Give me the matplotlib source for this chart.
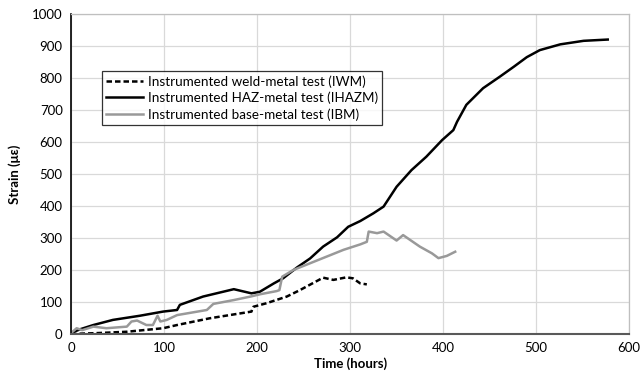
import matplotlib
matplotlib.use("Agg")
import matplotlib.pyplot as plt

# Instrumented weld-metal test (IWM)
iwm_t = [0, 30, 60, 99, 114, 149, 194, 195, 196, 210, 232, 246, 271, 282, 296, 303, 311, 318]
iwm_s = [0, 3, 7, 18, 28, 49, 70, 80, 85, 96, 117, 137, 176, 169, 177, 174, 158, 155]

# Instrumented HAZ-metal test (IHAZM)
haz_t = [0, 10, 24, 45, 74, 99, 114, 117, 142, 175, 194, 203, 218, 228, 243, 257, 271, 286,
         298, 311, 325, 336, 350, 366, 382, 399, 411, 415, 425, 443, 461, 476, 490, 504,
         526, 551, 577]
haz_s = [3, 15, 28, 44, 57, 70, 75, 91, 117, 140, 127, 132, 158, 174, 208, 236, 273, 302,
         335, 353, 377, 398, 460, 512, 554, 606, 637, 663, 716, 768, 804, 835, 865, 887,
         905, 916, 920]

# Instrumented base-metal test (IBM)
ibm_t = [0, 6, 12, 24, 38, 60, 65, 71, 81, 88, 93, 96, 103, 114, 132, 146, 153, 175, 193,
         203, 221, 224, 227, 239, 257, 275, 293, 311, 318, 320, 329, 336, 350, 357, 375,
         388, 395, 404, 413]
ibm_s = [3, 18, 12, 23, 18, 23, 39, 42, 28, 28, 57, 39, 44, 59, 68, 75, 94, 106, 117,
         124, 134, 137, 179, 200, 221, 242, 263, 280, 288, 320, 315, 320, 292, 309, 273,
         252, 237, 244, 257]

labels = ["Instrumented weld-metal test (IWM)",
          "Instrumented HAZ-metal test (IHAZM)",
          "Instrumented base-metal test (IBM)"]

plt.rcParams['font.family'] = ['Lato', 'DejaVu Sans']

fig = plt.figure(figsize=(6.4, 3.81), dpi=100)
ax = fig.add_axes([0.111, 0.1234, 0.872, 0.840])

ax.plot(iwm_t, iwm_s, color='black', lw=1.8, ls=(0, (2.2, 1.2)), label=labels[0])
ax.plot(haz_t, haz_s, color='black', lw=1.8, label=labels[1])
ax.plot(ibm_t, ibm_s, color='#999999', lw=1.8, label=labels[2])

ax.set_xlim(0, 600)
ax.set_ylim(0, 1000)
ax.set_xticks(range(0, 601, 100))
ax.set_yticks(range(0, 1001, 100))
ax.grid(True, color='#d9d9d9', lw=0.9)
ax.set_axisbelow(True)
ax.tick_params(length=0, labelsize=9.5, pad=6)
for s in ['top', 'right']:
    ax.spines[s].set_color('#bfbfbf')
    ax.spines[s].set_linewidth(0.9)
ax.spines['left'].set_color('black')
ax.spines['left'].set_linewidth(1.2)
ax.spines['bottom'].set_color('#595959')
ax.spines['bottom'].set_linewidth(1.5)

ax.set_xlabel('Time (hours)', fontsize=9.5, fontweight='bold', labelpad=2)
ax.set_ylabel('Strain (με)', fontsize=9.5, fontweight='bold', labelpad=8)

leg = ax.legend(loc='upper left', bbox_to_anchor=(0.055, 0.822), borderaxespad=0,
                fontsize=9.7, frameon=True, fancybox=False, handlelength=2.8,
                handletextpad=0.3, labelspacing=0.3, borderpad=0.3)
leg.get_frame().set_edgecolor('black')
leg.get_frame().set_linewidth(0.9)

fig.savefig('out.png', dpi=100)
